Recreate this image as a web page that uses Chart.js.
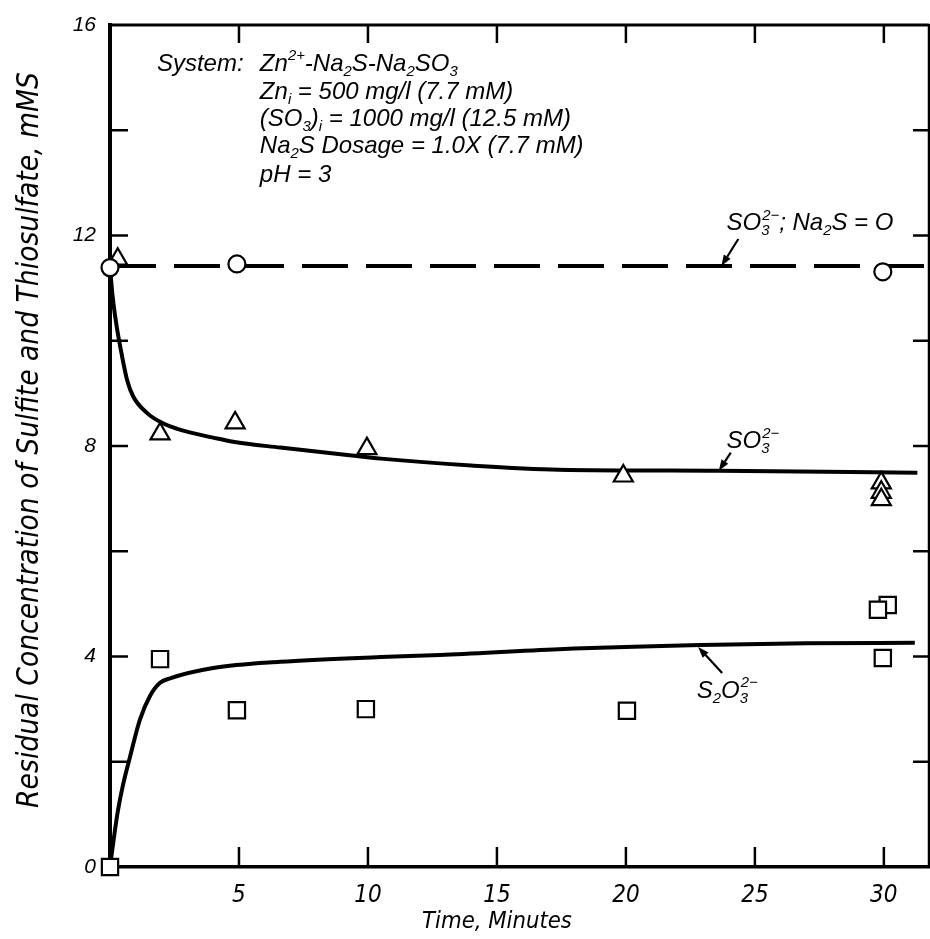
<!DOCTYPE html>
<html><head><meta charset="utf-8">
<script src="https://cdn.jsdelivr.net/npm/chart.js@4.4.1/dist/chart.umd.min.js"></script>
<style>html,body{margin:0;padding:0;background:#fff}canvas{display:block}</style>
</head><body>
<canvas id="c" width="930" height="939"></canvas>
<script>
// ---------------- data ----------------
const xTickLabels = ['5', '10', '15', '20', '25', '30'];
const yTickLabels = ['0', '4', '8', '12', '16'];

// SO3(2-) with Na2S = 0 (circles + dashed line)
const noSulfideTime = [0, 4.92, 29.96];
const noSulfideSO3 = [11.39, 11.46, 11.31];
const noSulfideLineTime = [0, 31.7];
const noSulfideLineSO3 = [11.42, 11.42];

// SO3(2-) measured (triangles)
const sulfiteTime = [0.3, 1.94, 4.85, 9.96, 19.9, 29.9, 29.9, 29.9];
const sulfiteSO3 = [11.55, 8.23, 8.44, 7.95, 7.43, 7.3, 7.12, 6.98];

// S2O3(2-) measured (squares)
const thioTime = [0, 1.94, 4.92, 9.92, 20.04, 30.15, 29.77, 29.96];
const thioS2O3 = [0, 3.95, 2.98, 3.0, 2.97, 4.98, 4.89, 3.97];

// fitted curves
const sulfiteCurveTime = [0, 0.1, 0.25, 0.45, 0.66, 0.9, 1.43, 1.94, 2.7, 4.0, 4.77, 6.6, 9.2, 10.5, 14, 17.4, 23.6, 31.3];
const sulfiteCurve = [11.4, 10.85, 10.3, 9.75, 9.26, 8.94, 8.63, 8.46, 8.31, 8.16, 8.08, 7.97, 7.83, 7.76, 7.63, 7.55, 7.53, 7.49];
const thioCurveTime = [0, 0.15, 0.3, 0.5, 0.78, 1.16, 1.55, 1.94, 2.3, 4.0, 6.6, 10.5, 12.8, 17.4, 22.9, 27, 31.2];
const thioCurve = [0, 0.55, 1.05, 1.55, 2.1, 2.8, 3.25, 3.5, 3.58, 3.78, 3.9, 3.99, 4.03, 4.14, 4.22, 4.25, 4.26];

const xTitle = 'Time, Minutes';
const yTitle = 'Residual Concentration of Sulfite and Thiosulfate, mMS';

// ---------------- helpers ----------------
const F = "'Liberation Sans', Arimo, Arial, Helvetica, sans-serif";
const FN = "'Liberation Sans Narrow', 'DejaVu Sans Condensed', 'Liberation Sans', sans-serif";
const pts = (xs, ys) => xs.map((x, i) => ({ x, y: ys[i] }));

function drawRich(ctx, x, y, parts, size) {
  let cx = x;
  const small = size * 0.62;
  for (const [t, k] of parts) {
    if (k === 'n') {
      ctx.font = `italic ${size}px ${F}`;
      ctx.fillText(t, cx, y); cx += ctx.measureText(t).width;
    } else if (k === 'sub') {
      ctx.font = `italic ${small}px ${F}`;
      ctx.fillText(t, cx, y + size * 0.2); cx += ctx.measureText(t).width;
    } else if (k === 'sup') {
      ctx.font = `italic ${small}px ${F}`;
      ctx.fillText(t, cx, y - size * 0.45); cx += ctx.measureText(t).width;
    } else if (k === 'stack') {
      ctx.font = `italic ${small}px ${F}`;
      ctx.fillText(t[0], cx + 1, y - size * 0.45);
      ctx.fillText(t[1], cx, y + size * 0.2);
      cx += Math.max(ctx.measureText(t[0]).width + 1, ctx.measureText(t[1]).width);
    }
  }
  return cx;
}
function arrow(ctx, x0, y0, x1, y1) {
  ctx.save();
  ctx.strokeStyle = '#000'; ctx.fillStyle = '#000'; ctx.lineWidth = 2.2;
  const a = Math.atan2(y1 - y0, x1 - x0);
  const L = 11, W = 4;
  const bx = x1 - Math.cos(a) * L, by = y1 - Math.sin(a) * L;
  ctx.beginPath(); ctx.moveTo(x0, y0); ctx.lineTo(bx, by); ctx.stroke();
  ctx.beginPath();
  ctx.moveTo(x1, y1);
  ctx.lineTo(bx - Math.sin(a) * W, by + Math.cos(a) * W);
  ctx.lineTo(bx + Math.sin(a) * W, by - Math.cos(a) * W);
  ctx.closePath(); ctx.fill();
  ctx.restore();
}

const SO3_2 = [['SO', 'n'], [['2\u2212', '3'], 'stack']];
const infoBlock = [
  { t: 1.82, v: 15.29, parts: [['System:', 'n']] },
  { t: 5.81, v: 15.29, parts: [['Zn', 'n'], ['2+', 'sup'], ['-Na', 'n'], ['2', 'sub'], ['S-Na', 'n'], ['2', 'sub'], ['SO', 'n'], ['3', 'sub']] },
  { t: 5.81, v: 14.75, parts: [['Zn', 'n'], ['i', 'sub'], [' = 500 mg/l (7.7 mM)', 'n']] },
  { t: 5.81, v: 14.24, parts: [['(SO', 'n'], ['3', 'sub'], [')', 'n'], ['i', 'sub'], [' = 1000 mg/l (12.5 mM)', 'n']] },
  { t: 5.81, v: 13.73, parts: [['Na', 'n'], ['2', 'sub'], ['S Dosage = 1.0X (7.7 mM)', 'n']] },
  { t: 5.81, v: 13.19, parts: [['pH = 3', 'n']] },
  { t: 23.9, v: 12.26, parts: SO3_2.concat([['; Na', 'n'], ['2', 'sub'], ['S = O', 'n']]) },
  { t: 23.9, v: 8.12, parts: SO3_2 },
  { t: 22.75, v: 3.37, parts: [['S', 'n'], ['2', 'sub'], ['O', 'n'], [['2\u2212', '3'], 'stack']] },
];
// leaders: tip in data units, tail offset in px
const leaders = [
  { t: 23.7, v: 11.42, dx: 17, dy: -27 },
  { t: 23.6, v: 7.53, dx: 12, dy: -18 },
  { t: 22.8, v: 4.18, dx: 24, dy: 26 },
];

const framePlugin = {
  id: 'frame',
  beforeDatasetsDraw(chart) {
    const { ctx, chartArea: a, scales: { x, y } } = chart;
    ctx.save();
    ctx.strokeStyle = '#000';
    ctx.lineCap = 'butt';
    ctx.lineWidth = 3;
    ctx.beginPath(); ctx.moveTo(a.left - 2, a.top); ctx.lineTo(a.right, a.top); ctx.stroke();
    ctx.lineWidth = 2.5;
    ctx.beginPath(); ctx.moveTo(a.right, a.top - 1); ctx.lineTo(a.right, a.bottom); ctx.stroke();
    ctx.lineWidth = 2.5;
    for (const tk of x.ticks) {
      const px = x.getPixelForValue(tk.value);
      ctx.beginPath(); ctx.moveTo(px, a.bottom); ctx.lineTo(px, a.bottom - 20); ctx.stroke();
      ctx.beginPath(); ctx.moveTo(px, a.top); ctx.lineTo(px, a.top + 18); ctx.stroke();
    }
    for (const tk of y.ticks) {
      if (tk.value <= 0 || tk.value >= 16) continue;
      const py = y.getPixelForValue(tk.value);
      ctx.beginPath(); ctx.moveTo(a.left, py); ctx.lineTo(a.left + 18, py); ctx.stroke();
      ctx.beginPath(); ctx.moveTo(a.right, py); ctx.lineTo(a.right - 16, py); ctx.stroke();
    }
    ctx.restore();
  },
  afterDatasetsDraw(chart) {
    const { ctx, scales: { x, y } } = chart;
    ctx.save();
    ctx.fillStyle = '#000';
    ctx.textBaseline = 'alphabetic';
    ctx.textAlign = 'left';
    const size = 24;
    for (const b of infoBlock) {
      drawRich(ctx, x.getPixelForValue(b.t), y.getPixelForValue(b.v) + size * 0.36, b.parts, size);
    }
    for (const l of leaders) {
      const px = x.getPixelForValue(l.t), py = y.getPixelForValue(l.v);
      arrow(ctx, px + l.dx, py + l.dy, px, py);
    }
    ctx.textAlign = 'center';
    ctx.textBaseline = 'middle';
    ctx.font = `italic 100px ${FN}`;
    let w = ctx.measureText(xTitle).width;
    ctx.font = `italic ${Math.min(30, 100 * 150 / w)}px ${FN}`;
    ctx.fillText(xTitle, 497, 922);
    ctx.font = `italic 100px ${FN}`;
    w = ctx.measureText(yTitle).width;
    ctx.font = `italic ${100 * 736 / w}px ${FN}`;
    ctx.translate(30, 440);
    ctx.rotate(-Math.PI / 2);
    ctx.fillText(yTitle, 0, 0);
    ctx.restore();
  }
};

const black = '#000';
new Chart(document.getElementById('c'), {
  type: 'scatter',
  data: {
    datasets: [
      { label: 'SO3 2- (Na2S = 0)', data: pts(noSulfideTime, noSulfideSO3), pointStyle: 'circle', pointRadius: 8.5,
        pointBackgroundColor: '#fff', pointBorderColor: black, pointBorderWidth: 2.2, clip: false },
      { label: 'SO3 2-', data: pts(sulfiteTime, sulfiteSO3), pointStyle: 'triangle', pointRadius: 11,
        pointBackgroundColor: '#fff', pointBorderColor: black, pointBorderWidth: 2.2, clip: false },
      { label: 'S2O3 2-', data: pts(thioTime, thioS2O3), pointStyle: 'rect', pointRadius: 11.5,
        pointBackgroundColor: '#fff', pointBorderColor: black, pointBorderWidth: 2.2, clip: false },
      { type: 'line', label: 'SO3 curve', data: pts(sulfiteCurveTime, sulfiteCurve), borderColor: black, borderWidth: 4,
        pointRadius: 0, cubicInterpolationMode: 'monotone', fill: false, clip: false },
      { type: 'line', label: 'S2O3 curve', data: pts(thioCurveTime, thioCurve), borderColor: black, borderWidth: 4,
        pointRadius: 0, cubicInterpolationMode: 'monotone', fill: false, clip: false },
      { type: 'line', label: 'Na2S = 0 line', data: pts(noSulfideLineTime, noSulfideLineSO3), borderColor: black, borderWidth: 4,
        borderDash: [46, 18], pointRadius: 0, fill: false, clip: false },
    ]
  },
  options: {
    responsive: false,
    animation: false,
    devicePixelRatio: 1,
    layout: { autoPadding: false, padding: { top: 25, right: 1, left: 0, bottom: 0 } },
    plugins: { legend: { display: false }, tooltip: { enabled: false } },
    scales: {
      x: {
        type: 'linear', min: 0, max: 31.75,
        afterFit: s => { s.height = 72; s.paddingLeft = 0; s.paddingRight = 0; },
        afterBuildTicks: s => { s.ticks = xTickLabels.map(l => ({ value: Number(l) })); },
        grid: { display: false, drawTicks: false },
        border: { display: true, color: black, width: 3.5 },
        ticks: { autoSkip: false, maxRotation: 0, padding: 14, color: black,
          font: { family: FN, size: 24, style: 'italic' },
          callback: v => xTickLabels.includes(String(v)) ? String(v) : '' }
      },
      y: {
        type: 'linear', min: 0, max: 16,
        afterFit: s => { s.width = 110; s.paddingTop = 0; s.paddingBottom = 0; },
        afterBuildTicks: s => { const t = []; for (let v = 0; v <= 16; v += 2) t.push({ value: v }); s.ticks = t; },
        grid: { display: false, drawTicks: false },
        border: { display: true, color: black, width: 4 },
        ticks: { autoSkip: false, padding: 14, color: black,
          font: { family: F, size: 21, style: 'italic' },
          callback: v => yTickLabels.includes(String(v)) ? String(v) : '' }
      }
    }
  },
  plugins: [framePlugin]
});
</script>
</body></html>
